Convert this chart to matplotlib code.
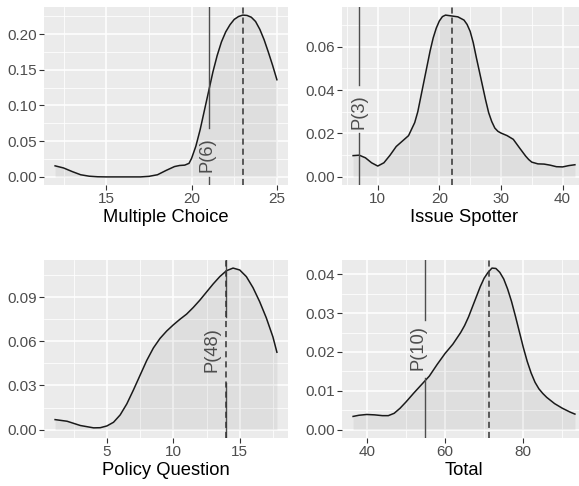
import matplotlib
matplotlib.use("Agg")
import matplotlib.pyplot as plt
from matplotlib.ticker import MultipleLocator, FormatStrFormatter

plt.rcParams['font.family'] = ['Liberation Sans', 'DejaVu Sans']

# ---------------- data ----------------
mc_x = [12.0, 12.5, 13.0, 13.5, 14.0, 14.5, 15.0, 16.0, 17.0, 17.5, 18.0, 18.5, 19.0, 19.3, 19.6,
        19.85, 20.0, 20.25, 20.5, 20.75, 21.0, 21.25, 21.5, 21.75, 22.0, 22.25, 22.5, 22.75, 23.0,
        23.25, 23.5, 23.75, 24.0, 24.25, 24.5, 24.75, 25.0]
mc_y = [0.0155, 0.0125, 0.0075, 0.003, 0.001, 0.0002, 0.0, 0.0, 0.0, 0.0008, 0.003, 0.009, 0.0145,
        0.016, 0.0165, 0.019, 0.026, 0.043, 0.066, 0.093, 0.120, 0.147, 0.170, 0.189, 0.203, 0.213,
        0.2205, 0.2245, 0.2265, 0.226, 0.2235, 0.2175, 0.2065, 0.192, 0.1745, 0.156, 0.136]

is_x = [6, 7, 8, 9, 10, 11, 12, 13, 14, 15, 16, 16.5, 17, 17.5, 18, 18.5, 19, 19.5, 20, 20.5, 21,
        22, 23, 24, 24.5, 25, 25.5, 26, 26.5, 27, 27.5, 28, 28.5, 29, 29.5, 30, 31, 32, 33, 33.5,
        34, 34.5, 35, 36, 37, 38, 39, 40, 41, 42]
is_y = [0.0098, 0.0100, 0.0088, 0.0065, 0.0050, 0.0065, 0.0100, 0.0140, 0.0165, 0.0190, 0.0250,
        0.0300, 0.0370, 0.0440, 0.0510, 0.0580, 0.0640, 0.0685, 0.0718, 0.0738, 0.0745, 0.0741,
        0.0737, 0.0722, 0.0702, 0.0670, 0.0618, 0.0550, 0.0485, 0.0420, 0.0355, 0.0296, 0.0255,
        0.0225, 0.0210, 0.0202, 0.0190, 0.0173, 0.0134, 0.0115, 0.0096, 0.0080, 0.0068, 0.0060,
        0.0059, 0.0054, 0.0047, 0.0046, 0.0052, 0.0056]

pq_x = [1.1, 2, 3, 4, 4.5, 5, 5.5, 6, 6.5, 7, 7.5, 8, 8.5, 9, 9.5, 10, 10.5, 11, 11.5, 12, 12.5,
        13, 13.5, 14, 14.5, 15, 15.5, 16, 16.5, 17, 17.5, 17.8]
pq_y = [0.0068, 0.0057, 0.0028, 0.0012, 0.0013, 0.0025, 0.0050, 0.0100, 0.0175, 0.0270, 0.0370,
        0.0470, 0.0555, 0.0620, 0.0670, 0.0712, 0.0750, 0.0785, 0.0830, 0.0880, 0.0935, 0.0990,
        0.1040, 0.1080, 0.1098, 0.1085, 0.1040, 0.0965, 0.0870, 0.0760, 0.0630, 0.0526]

tot_x = [36.5, 38, 40, 42, 44, 45.5, 47, 48.5, 50, 52, 54, 56, 58, 60, 62, 64, 65, 66, 67, 68, 69,
         70, 71, 72, 73, 74, 75, 76, 77, 78, 79, 80, 81, 82, 83, 84, 85, 86, 88, 90, 92, 93.2]
tot_y = [0.0034, 0.0037, 0.0039, 0.0038, 0.0036, 0.0036, 0.0042, 0.0055, 0.0071, 0.0094, 0.0116,
         0.0138, 0.0168, 0.0196, 0.0220, 0.0250, 0.0268, 0.0290, 0.0316, 0.0342, 0.0368, 0.0390,
         0.0405, 0.0416, 0.0415, 0.0405, 0.0388, 0.0362, 0.0330, 0.0292, 0.0252, 0.0212, 0.0176,
         0.0146, 0.0122, 0.0105, 0.0093, 0.0083, 0.0067, 0.0055, 0.0045, 0.0040]

titles = ["Multiple Choice", "Issue Spotter", "Policy Question", "Total"]
p_labels = ["P(6)", "P(3)", "P(48)", "P(10)"]
p_lines = [21, 7, 14, 55]
mean_lines = [23, 22, 14, 71.3]
curves = [(mc_x, mc_y), (is_x, is_y), (pq_x, pq_y), (tot_x, tot_y)]

# ---------------- layout / style ----------------
W, H = 579, 486
panel_px = [(44, 7, 244, 178), (342, 7, 244, 178), (44, 260, 244, 177.7), (342, 260, 244, 177.7)]
x_major = [5, 10, 5, 20]
y_major = [0.05, 0.02, 0.03, 0.01]
# label x offset (data units) and vertical placement / gap (axes fraction)
label_x = [20.91, 7.0, 12.94, 53.2]
label_yc = [0.169, 0.414, 0.494, 0.506]
gap = [(0.047, 0.319), (0.292, 0.559), (0.31, 0.68), (0.336, 0.661)]

fig = plt.figure(figsize=(W / 100, H / 100), dpi=100)
fig.patch.set_facecolor("white")

for i in range(4):
    l, t, w, h = panel_px[i]
    ax = fig.add_axes([l / W, (H - t - h) / H, w / W, h / H])
    ax.set_facecolor("#EBEBEB")
    for s in ax.spines.values():
        s.set_visible(False)
    x, y = curves[i]
    ax.fill_between(x, 0, y, color="black", alpha=0.055, linewidth=0, zorder=3)
    ax.plot(x, y, color="#1A1A1A", lw=1.1, zorder=4, solid_joinstyle="round")
    ax.margins(x=0.05, y=0.05)

    ax.xaxis.set_major_locator(MultipleLocator(x_major[i]))
    ax.xaxis.set_minor_locator(MultipleLocator(x_major[i] / 2))
    ax.yaxis.set_major_locator(MultipleLocator(y_major[i]))
    ax.yaxis.set_minor_locator(MultipleLocator(y_major[i] / 2))
    ax.yaxis.set_major_formatter(FormatStrFormatter("%.2f"))
    ax.grid(which="major", color="white", lw=1.1, zorder=0)
    ax.grid(which="minor", color="white", lw=0.55, zorder=0)
    ax.set_axisbelow(True)
    ax.tick_params(which="major", length=3.3, width=0.8, color="#333333",
                   labelcolor="#4D4D4D", labelsize=11, pad=2)
    ax.tick_params(which="minor", length=0)
    ax.set_xlabel(titles[i], fontsize=13.2, color="black", labelpad=2)

    # percentile line with gap for its label
    g0, g1 = gap[i]
    ax.axvline(p_lines[i], ymin=0, ymax=g0, color="#4D4D4D", lw=1.0, zorder=5)
    ax.axvline(p_lines[i], ymin=g1, ymax=1, color="#4D4D4D", lw=1.0, zorder=5)
    ax.text(label_x[i], label_yc[i], p_labels[i], transform=ax.get_xaxis_transform(),
            rotation=90, ha="center", va="center", fontsize=13.2, color="#4D4D4D", zorder=6)
    # mean line
    ax.axvline(mean_lines[i], color="#333333", lw=1.1, linestyle=(0, (4, 2.6)), zorder=5)

fig.savefig("out.png", dpi=100)
